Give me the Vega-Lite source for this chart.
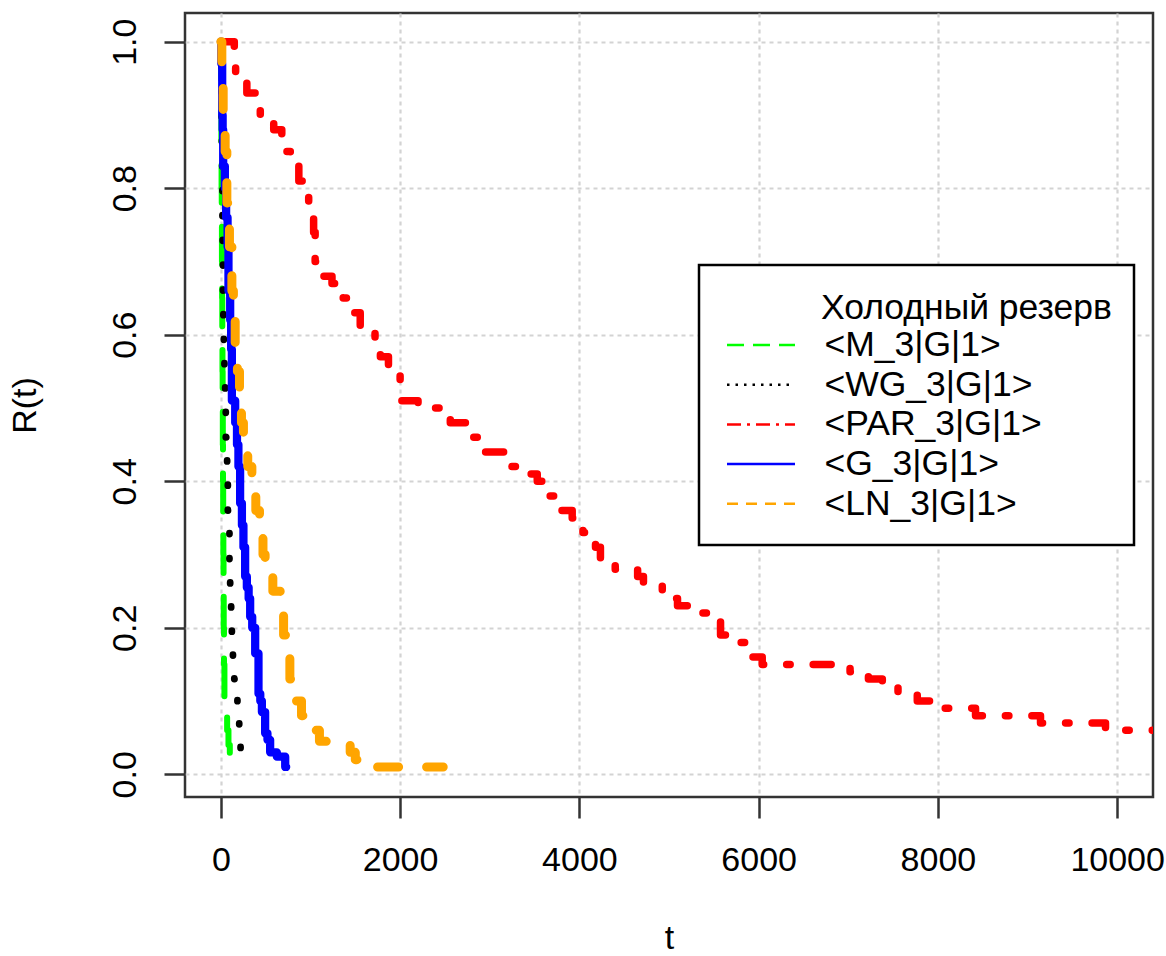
{
  "$schema": "https://vega.github.io/schema/vega-lite/v6.json",
  "width": 968,
  "height": 784,
  "autosize": {"type": "none"},
  "padding": {"left": 185, "top": 13, "right": 13, "bottom": 159},
  "background": "white",
  "config": {
    "font": "Liberation Sans",
    "view": {"stroke": "#333333", "strokeWidth": 2.5},
    "legend": {"strokeWidth": 2.5},
    "style": {"guide-title": {"dx": 100, "dy": 4}},
    "axis": {
      "domain": false,
      "grid": true,
      "gridColor": "#d3d3d3",
      "gridDash": [4, 4],
      "gridWidth": 2.2,
      "tickSize": 21,
      "tickWidth": 2.5,
      "tickColor": "#333333",
      "labelFontSize": 34,
      "labelColor": "black",
      "labelFlush": false,
      "labelOverlap": false,
      "labelBound": false,
      "titleFontSize": 34,
      "titleFontWeight": "normal",
      "titleColor": "black"
    }
  },
  "datasets": {
    "curves": [
      {"series": "<M_3|G|1>", "t": 0, "R": 1.0},
      {"series": "<M_3|G|1>", "t": 2, "R": 0.95},
      {"series": "<M_3|G|1>", "t": 4, "R": 0.9},
      {"series": "<M_3|G|1>", "t": 6, "R": 0.85},
      {"series": "<M_3|G|1>", "t": 8, "R": 0.8},
      {"series": "<M_3|G|1>", "t": 10, "R": 0.75},
      {"series": "<M_3|G|1>", "t": 12, "R": 0.7},
      {"series": "<M_3|G|1>", "t": 14, "R": 0.65},
      {"series": "<M_3|G|1>", "t": 16, "R": 0.6},
      {"series": "<M_3|G|1>", "t": 18, "R": 0.55},
      {"series": "<M_3|G|1>", "t": 20, "R": 0.5},
      {"series": "<M_3|G|1>", "t": 22, "R": 0.45},
      {"series": "<M_3|G|1>", "t": 24, "R": 0.4},
      {"series": "<M_3|G|1>", "t": 26, "R": 0.35},
      {"series": "<M_3|G|1>", "t": 28, "R": 0.3},
      {"series": "<M_3|G|1>", "t": 30, "R": 0.25},
      {"series": "<M_3|G|1>", "t": 32, "R": 0.2},
      {"series": "<M_3|G|1>", "t": 35, "R": 0.15},
      {"series": "<M_3|G|1>", "t": 40, "R": 0.1},
      {"series": "<M_3|G|1>", "t": 55, "R": 0.08},
      {"series": "<M_3|G|1>", "t": 70, "R": 0.06},
      {"series": "<M_3|G|1>", "t": 85, "R": 0.04},
      {"series": "<M_3|G|1>", "t": 100, "R": 0.02},
      {"series": "<M_3|G|1>", "t": 110, "R": 0.01},
      {"series": "<M_3|G|1>", "t": 115, "R": 0.01},

      {"series": "<WG_3|G|1>", "t": 0, "R": 1.0},
      {"series": "<WG_3|G|1>", "t": 3, "R": 0.97},
      {"series": "<WG_3|G|1>", "t": 6, "R": 0.93},
      {"series": "<WG_3|G|1>", "t": 9, "R": 0.89},
      {"series": "<WG_3|G|1>", "t": 12, "R": 0.85},
      {"series": "<WG_3|G|1>", "t": 15, "R": 0.8},
      {"series": "<WG_3|G|1>", "t": 18, "R": 0.75},
      {"series": "<WG_3|G|1>", "t": 21, "R": 0.7},
      {"series": "<WG_3|G|1>", "t": 24, "R": 0.65},
      {"series": "<WG_3|G|1>", "t": 28, "R": 0.61},
      {"series": "<WG_3|G|1>", "t": 33, "R": 0.57},
      {"series": "<WG_3|G|1>", "t": 40, "R": 0.53},
      {"series": "<WG_3|G|1>", "t": 48, "R": 0.5},
      {"series": "<WG_3|G|1>", "t": 55, "R": 0.46},
      {"series": "<WG_3|G|1>", "t": 62, "R": 0.43},
      {"series": "<WG_3|G|1>", "t": 70, "R": 0.4},
      {"series": "<WG_3|G|1>", "t": 78, "R": 0.36},
      {"series": "<WG_3|G|1>", "t": 87, "R": 0.33},
      {"series": "<WG_3|G|1>", "t": 96, "R": 0.29},
      {"series": "<WG_3|G|1>", "t": 104, "R": 0.25},
      {"series": "<WG_3|G|1>", "t": 115, "R": 0.22},
      {"series": "<WG_3|G|1>", "t": 123, "R": 0.19},
      {"series": "<WG_3|G|1>", "t": 135, "R": 0.16},
      {"series": "<WG_3|G|1>", "t": 150, "R": 0.13},
      {"series": "<WG_3|G|1>", "t": 171, "R": 0.11},
      {"series": "<WG_3|G|1>", "t": 185, "R": 0.09},
      {"series": "<WG_3|G|1>", "t": 196, "R": 0.08},
      {"series": "<WG_3|G|1>", "t": 205, "R": 0.06},
      {"series": "<WG_3|G|1>", "t": 215, "R": 0.04},
      {"series": "<WG_3|G|1>", "t": 220, "R": 0.02},
      {"series": "<WG_3|G|1>", "t": 223, "R": 0.01},
      {"series": "<WG_3|G|1>", "t": 226, "R": 0.01},

      {"series": "<PAR_3|G|1>", "t": 0, "R": 1.0},
      {"series": "<PAR_3|G|1>", "t": 150, "R": 0.98},
      {"series": "<PAR_3|G|1>", "t": 165, "R": 0.95},
      {"series": "<PAR_3|G|1>", "t": 290, "R": 0.93},
      {"series": "<PAR_3|G|1>", "t": 440, "R": 0.89},
      {"series": "<PAR_3|G|1>", "t": 590, "R": 0.88},
      {"series": "<PAR_3|G|1>", "t": 680, "R": 0.85},
      {"series": "<PAR_3|G|1>", "t": 775, "R": 0.84},
      {"series": "<PAR_3|G|1>", "t": 870, "R": 0.81},
      {"series": "<PAR_3|G|1>", "t": 930, "R": 0.79},
      {"series": "<PAR_3|G|1>", "t": 980, "R": 0.77},
      {"series": "<PAR_3|G|1>", "t": 1035, "R": 0.74},
      {"series": "<PAR_3|G|1>", "t": 1052, "R": 0.7},
      {"series": "<PAR_3|G|1>", "t": 1058, "R": 0.68},
      {"series": "<PAR_3|G|1>", "t": 1240, "R": 0.67},
      {"series": "<PAR_3|G|1>", "t": 1365, "R": 0.65},
      {"series": "<PAR_3|G|1>", "t": 1445, "R": 0.63},
      {"series": "<PAR_3|G|1>", "t": 1555, "R": 0.61},
      {"series": "<PAR_3|G|1>", "t": 1720, "R": 0.58},
      {"series": "<PAR_3|G|1>", "t": 1780, "R": 0.57},
      {"series": "<PAR_3|G|1>", "t": 1870, "R": 0.55},
      {"series": "<PAR_3|G|1>", "t": 2000, "R": 0.51},
      {"series": "<PAR_3|G|1>", "t": 2200, "R": 0.5},
      {"series": "<PAR_3|G|1>", "t": 2450, "R": 0.49},
      {"series": "<PAR_3|G|1>", "t": 2560, "R": 0.48},
      {"series": "<PAR_3|G|1>", "t": 2760, "R": 0.46},
      {"series": "<PAR_3|G|1>", "t": 2870, "R": 0.44},
      {"series": "<PAR_3|G|1>", "t": 3170, "R": 0.42},
      {"series": "<PAR_3|G|1>", "t": 3450, "R": 0.41},
      {"series": "<PAR_3|G|1>", "t": 3530, "R": 0.4},
      {"series": "<PAR_3|G|1>", "t": 3600, "R": 0.38},
      {"series": "<PAR_3|G|1>", "t": 3790, "R": 0.36},
      {"series": "<PAR_3|G|1>", "t": 3920, "R": 0.35},
      {"series": "<PAR_3|G|1>", "t": 4040, "R": 0.33},
      {"series": "<PAR_3|G|1>", "t": 4180, "R": 0.31},
      {"series": "<PAR_3|G|1>", "t": 4235, "R": 0.29},
      {"series": "<PAR_3|G|1>", "t": 4400, "R": 0.28},
      {"series": "<PAR_3|G|1>", "t": 4650, "R": 0.27},
      {"series": "<PAR_3|G|1>", "t": 4715, "R": 0.26},
      {"series": "<PAR_3|G|1>", "t": 4925, "R": 0.24},
      {"series": "<PAR_3|G|1>", "t": 5095, "R": 0.23},
      {"series": "<PAR_3|G|1>", "t": 5215, "R": 0.22},
      {"series": "<PAR_3|G|1>", "t": 5460, "R": 0.21},
      {"series": "<PAR_3|G|1>", "t": 5575, "R": 0.19},
      {"series": "<PAR_3|G|1>", "t": 5705, "R": 0.18},
      {"series": "<PAR_3|G|1>", "t": 5850, "R": 0.16},
      {"series": "<PAR_3|G|1>", "t": 6040, "R": 0.15},
      {"series": "<PAR_3|G|1>", "t": 7020, "R": 0.14},
      {"series": "<PAR_3|G|1>", "t": 7225, "R": 0.13},
      {"series": "<PAR_3|G|1>", "t": 7380, "R": 0.12},
      {"series": "<PAR_3|G|1>", "t": 7555, "R": 0.11},
      {"series": "<PAR_3|G|1>", "t": 7770, "R": 0.1},
      {"series": "<PAR_3|G|1>", "t": 7970, "R": 0.09},
      {"series": "<PAR_3|G|1>", "t": 8420, "R": 0.08},
      {"series": "<PAR_3|G|1>", "t": 9145, "R": 0.07},
      {"series": "<PAR_3|G|1>", "t": 9870, "R": 0.06},
      {"series": "<PAR_3|G|1>", "t": 10400, "R": 0.06},

      {"series": "<G_3|G|1>", "t": 0, "R": 1.0},
      {"series": "<G_3|G|1>", "t": 5, "R": 0.97},
      {"series": "<G_3|G|1>", "t": 15, "R": 0.9},
      {"series": "<G_3|G|1>", "t": 20, "R": 0.88},
      {"series": "<G_3|G|1>", "t": 26, "R": 0.83},
      {"series": "<G_3|G|1>", "t": 45, "R": 0.8},
      {"series": "<G_3|G|1>", "t": 59, "R": 0.76},
      {"series": "<G_3|G|1>", "t": 75, "R": 0.72},
      {"series": "<G_3|G|1>", "t": 85, "R": 0.66},
      {"series": "<G_3|G|1>", "t": 104, "R": 0.62},
      {"series": "<G_3|G|1>", "t": 115, "R": 0.58},
      {"series": "<G_3|G|1>", "t": 123, "R": 0.51},
      {"series": "<G_3|G|1>", "t": 160, "R": 0.48},
      {"series": "<G_3|G|1>", "t": 180, "R": 0.45},
      {"series": "<G_3|G|1>", "t": 196, "R": 0.42},
      {"series": "<G_3|G|1>", "t": 215, "R": 0.37},
      {"series": "<G_3|G|1>", "t": 235, "R": 0.34},
      {"series": "<G_3|G|1>", "t": 252, "R": 0.31},
      {"series": "<G_3|G|1>", "t": 271, "R": 0.27},
      {"series": "<G_3|G|1>", "t": 290, "R": 0.255},
      {"series": "<G_3|G|1>", "t": 310, "R": 0.24},
      {"series": "<G_3|G|1>", "t": 327, "R": 0.215},
      {"series": "<G_3|G|1>", "t": 350, "R": 0.2},
      {"series": "<G_3|G|1>", "t": 383, "R": 0.165},
      {"series": "<G_3|G|1>", "t": 420, "R": 0.11},
      {"series": "<G_3|G|1>", "t": 440, "R": 0.1},
      {"series": "<G_3|G|1>", "t": 458, "R": 0.085},
      {"series": "<G_3|G|1>", "t": 494, "R": 0.056},
      {"series": "<G_3|G|1>", "t": 520, "R": 0.047},
      {"series": "<G_3|G|1>", "t": 550, "R": 0.03},
      {"series": "<G_3|G|1>", "t": 625, "R": 0.024},
      {"series": "<G_3|G|1>", "t": 718, "R": 0.01},
      {"series": "<G_3|G|1>", "t": 729, "R": 0.01},

      {"series": "<LN_3|G|1>", "t": 0, "R": 1.0},
      {"series": "<LN_3|G|1>", "t": 11, "R": 0.97},
      {"series": "<LN_3|G|1>", "t": 26, "R": 0.9},
      {"series": "<LN_3|G|1>", "t": 48, "R": 0.85},
      {"series": "<LN_3|G|1>", "t": 67, "R": 0.78},
      {"series": "<LN_3|G|1>", "t": 96, "R": 0.72},
      {"series": "<LN_3|G|1>", "t": 123, "R": 0.66},
      {"series": "<LN_3|G|1>", "t": 140, "R": 0.62},
      {"series": "<LN_3|G|1>", "t": 160, "R": 0.58},
      {"series": "<LN_3|G|1>", "t": 185, "R": 0.55},
      {"series": "<LN_3|G|1>", "t": 208, "R": 0.51},
      {"series": "<LN_3|G|1>", "t": 230, "R": 0.48},
      {"series": "<LN_3|G|1>", "t": 252, "R": 0.45},
      {"series": "<LN_3|G|1>", "t": 300, "R": 0.42},
      {"series": "<LN_3|G|1>", "t": 346, "R": 0.39},
      {"series": "<LN_3|G|1>", "t": 390, "R": 0.36},
      {"series": "<LN_3|G|1>", "t": 431, "R": 0.33},
      {"series": "<LN_3|G|1>", "t": 470, "R": 0.3},
      {"series": "<LN_3|G|1>", "t": 494, "R": 0.27},
      {"series": "<LN_3|G|1>", "t": 580, "R": 0.25},
      {"series": "<LN_3|G|1>", "t": 662, "R": 0.22},
      {"series": "<LN_3|G|1>", "t": 700, "R": 0.19},
      {"series": "<LN_3|G|1>", "t": 729, "R": 0.16},
      {"series": "<LN_3|G|1>", "t": 770, "R": 0.13},
      {"series": "<LN_3|G|1>", "t": 810, "R": 0.1},
      {"series": "<LN_3|G|1>", "t": 900, "R": 0.08},
      {"series": "<LN_3|G|1>", "t": 978, "R": 0.06},
      {"series": "<LN_3|G|1>", "t": 1100, "R": 0.045},
      {"series": "<LN_3|G|1>", "t": 1220, "R": 0.04},
      {"series": "<LN_3|G|1>", "t": 1443, "R": 0.03},
      {"series": "<LN_3|G|1>", "t": 1500, "R": 0.02},
      {"series": "<LN_3|G|1>", "t": 1610, "R": 0.01},
      {"series": "<LN_3|G|1>", "t": 2481, "R": 0.01}
    ]
  },
  "data": {"name": "curves"},
  "encoding": {
    "x": {
      "field": "t",
      "type": "quantitative",
      "scale": {"domain": [-400, 10400], "nice": false, "zero": false},
      "axis": {
        "values": [0, 2000, 4000, 6000, 8000, 10000],
        "format": "d",
        "title": "t",
        "labelBaseline": "alphabetic",
        "labelPadding": 52,
        "titleBaseline": "alphabetic",
        "titleY": 147,
        "titleX": 384
      }
    },
    "y": {
      "field": "R",
      "type": "quantitative",
      "scale": {"domain": [-0.031, 1.0392], "nice": false, "zero": false},
      "axis": {
        "values": [0, 0.2, 0.4, 0.6, 0.8, 1.0],
        "format": ".1f",
        "title": "R(t)",
        "labelAngle": 270,
        "labelAlign": "center",
        "labelBaseline": "alphabetic",
        "labelPadding": 29,
        "titleAngle": 270,
        "titleAlign": "center",
        "titleBaseline": "alphabetic",
        "titleX": -154,
        "titleY": 492
      }
    }
  },
  "layer": [
    {
      "mark": {
        "type": "line",
        "interpolate": "step-after",
        "clip": true,
        "strokeCap": "round",
        "strokeJoin": "round"
      },
      "encoding": {
        "color": {
          "field": "series",
          "type": "nominal",
          "scale": {
            "domain": ["<M_3|G|1>", "<WG_3|G|1>", "<PAR_3|G|1>", "<G_3|G|1>", "<LN_3|G|1>"],
            "range": ["#00ff00", "#000000", "#ff0000", "#0000ff", "#ffa500"]
          },
          "legend": null
        },
        "strokeDash": {
          "field": "series",
          "type": "nominal",
          "scale": {
            "domain": ["<M_3|G|1>", "<WG_3|G|1>", "<PAR_3|G|1>", "<G_3|G|1>", "<LN_3|G|1>"],
            "range": [[38, 24], [1, 24], [18, 23, 3.5, 23], [1, 0], [21, 28]]
          },
          "legend": null
        },
        "strokeWidth": {
          "field": "series",
          "type": "nominal",
          "scale": {
            "domain": ["<M_3|G|1>", "<WG_3|G|1>", "<PAR_3|G|1>", "<G_3|G|1>", "<LN_3|G|1>"],
            "range": [6, 9, 7.5, 4, 7]
          },
          "legend": null
        }
      }
    },
    {
      "transform": [{"filter": "false"}],
      "mark": {"type": "line", "strokeWidth": 2.5, "clip": true},
      "encoding": {
        "color": {
          "field": "series",
          "type": "nominal",
          "scale": {
            "domain": ["<M_3|G|1>", "<WG_3|G|1>", "<PAR_3|G|1>", "<G_3|G|1>", "<LN_3|G|1>"],
            "range": ["#00ff00", "#000000", "#ff0000", "#0000ff", "#ffa500"]
          },
          "legend": {
            "title": "Холодный резерв",
            "orient": "none",
            "legendX": 514,
            "legendY": 252,
            "direction": "vertical",
            "padding": 22,
            "fillColor": "white",
            "strokeColor": "black",
            "titleFont": "Liberation Sans",
            "titleFontSize": 35.5,
            "titleFontWeight": "normal",
            "titleColor": "black",
            "titleLimit": 0,
            "titlePadding": 5,
            "labelFont": "Liberation Sans",
            "labelFontSize": 35.5,
            "labelColor": "black",
            "labelLimit": 0,
            "labelOffset": 28,
            "symbolType": "stroke",
            "symbolSize": 4624,
            "symbolStrokeWidth": 2.5,
            "symbolOffset": 4.5,
            "clipHeight": 35,
            "rowPadding": 3.7
          }
        },
        "strokeDash": {
          "field": "series",
          "type": "nominal",
          "scale": {
            "domain": ["<M_3|G|1>", "<WG_3|G|1>", "<PAR_3|G|1>", "<G_3|G|1>", "<LN_3|G|1>"],
            "range": [[17, 9], [2.5, 6], [14, 6, 3, 6], [1, 0], [11, 8]]
          },
          "legend": {"title": "Холодный резерв"}
        }
      }
    }
  ],
  "resolve": {
    "scale": {"color": "independent", "strokeDash": "independent", "strokeWidth": "independent"}
  }
}
